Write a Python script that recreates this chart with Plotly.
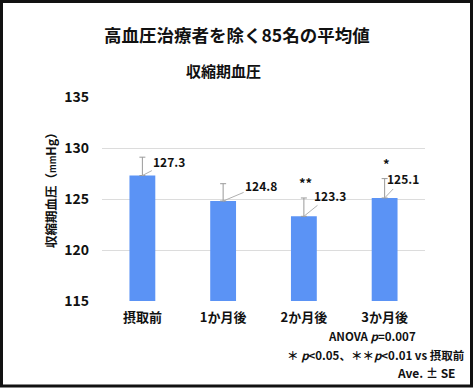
import plotly.graph_objects as go

categories = ["摂取前", "1か月後", "2か月後", "3か月後"]
means = [127.3, 124.8, 123.3, 125.1]
se = [1.8, 1.7, 1.8, 1.9]
value_labels = ["127.3", "124.8", "123.3", "125.1"]
sig_marks = ["", "", "**", "*"]
y_ticks = [115, 120, 125, 130, 135]

W, H = 475, 388
ML, MR, MT, MB = 102, 50, 97, 87
PW, PH = W - ML - MR, H - MT - MB

FONT = "Noto Sans CJK JP"
BAR = "#5B93F5"

fig = go.Figure()
fig.add_trace(go.Bar(
    x=categories, y=means,
    marker=dict(color=BAR, line=dict(width=0)),
    error_y=dict(type="data", array=se, arrayminus=[0]*len(se), symmetric=False,
                 color="#9a9a9a", thickness=1, width=3),
    width=0.32,
    showlegend=False,
    hoverinfo="skip",
))

# value labels with leader lines
offsets = [(27, -14), (38, -16), (26, -21), (18, -19)]
for c, m, lab, (ax, ay) in zip(categories, means, value_labels, offsets):
    fig.add_annotation(x=c, y=m, text=f"<b>{lab}</b>", showarrow=True, arrowhead=0,
                       arrowwidth=1, arrowcolor="#b0b0b0", ax=ax, ay=ay,
                       font=dict(family=FONT, size=12, color="#111"))

# significance marks
for c, m, s, mk in zip(categories, means, se, sig_marks):
    if mk:
        fig.add_annotation(x=c, y=m + s, text=f"<b>{mk}</b>", showarrow=False,
                           xanchor="center", yanchor="middle",
                           yshift=15, xshift=2, font=dict(family=FONT, size=13, color="#111"))

def px_x(x):
    return (x - ML) / PW

def px_y(y):
    return 1 - (y - MT) / PH

def note(x, y, text, size, xanchor="center", angle=0):
    fig.add_annotation(xref="paper", yref="paper", x=px_x(x), y=px_y(y),
                       xanchor=xanchor, yanchor="middle", text=text, showarrow=False,
                       textangle=angle,
                       font=dict(family=FONT, size=size, color="#111"))

# titles
note(237, 35, "<b>高血圧治療者を除く85名の平均値</b>", 17.5)
note(223, 70, "<b>収縮期血圧</b>", 15)

# y-axis title
note(50, 187, "<b>収縮期血圧（<span style='font-size:9px'>mm</span>Hg）</b>", 12.5, angle=-90)

# footnotes
note(372, 336, "<b>ANOVA <i>p</i>=0.007</b>", 11.5)
note(466, 355, "<b>＊ <i>p</i>&lt;0.05、＊＊<i>p</i>&lt;0.01 vs 摂取前</b>", 11.5, "right")
note(458, 372, "<b>Ave. ± SE</b>", 12, "right")

# outer frame
fig.add_shape(type="rect", xref="paper", yref="paper",
              x0=px_x(1.5), x1=px_x(471.5), y0=px_y(386), y1=px_y(1.5),
              line=dict(color="#111", width=3), fillcolor="rgba(0,0,0,0)", layer="above")

fig.update_layout(
    width=W, height=H,
    margin=dict(l=ML, r=MR, t=MT, b=MB),
    paper_bgcolor="white", plot_bgcolor="white",
    font=dict(family=FONT, color="#111"),
    bargap=0.68,
    xaxis=dict(showgrid=False, showline=False, ticks="",
               ticklabelstandoff=7,
               tickfont=dict(family=FONT, size=13, color="#111", weight="bold")),
    yaxis=dict(range=[115, 135], tickvals=y_ticks, showgrid=True, gridcolor="#dcdcdc",
               gridwidth=1, zeroline=False, showline=False, ticks="",
               ticklabelstandoff=12,
               tickfont=dict(family=FONT, size=14, color="#111", weight="bold")),
)

fig.write_html("out.html", config={"displayModeBar": False},
               post_script="document.body.style.margin='0';document.body.style.overflow='hidden';")
